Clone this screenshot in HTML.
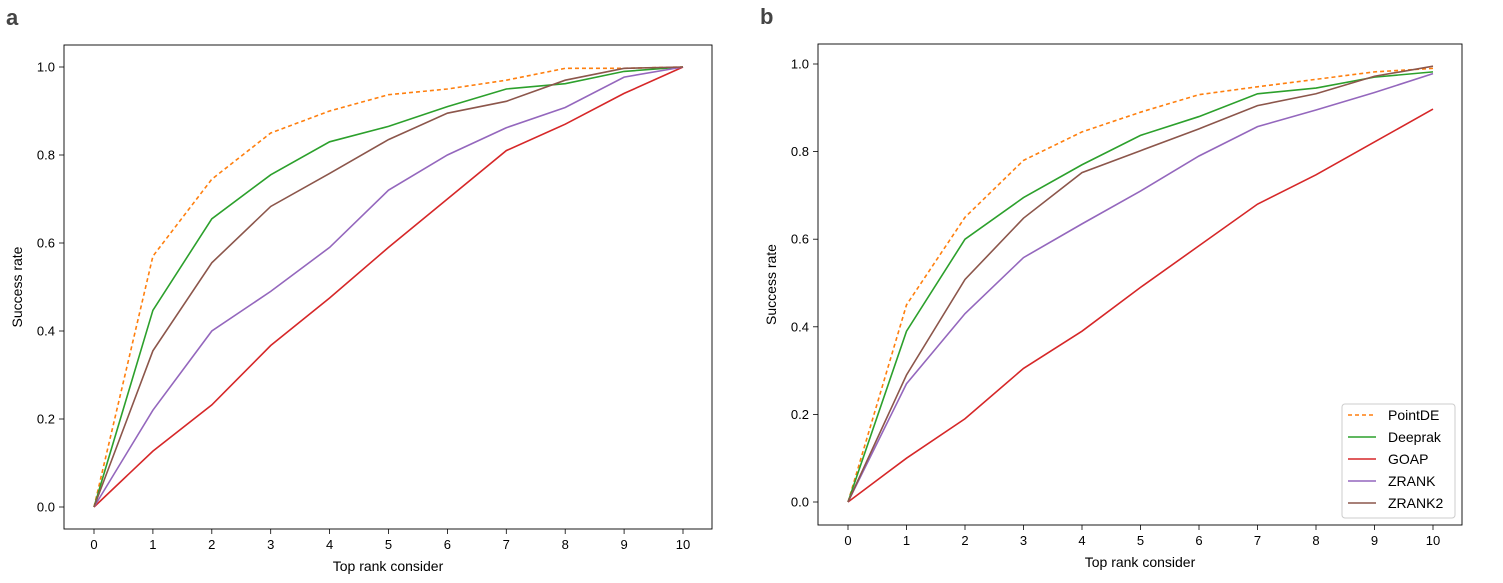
<!DOCTYPE html>
<html><head><meta charset="utf-8"><style>
body{margin:0;background:#fff;width:1503px;height:578px;overflow:hidden}
svg{font-family:"Liberation Sans","DejaVu Sans",sans-serif}
</style></head><body>
<svg id="c" width="1503" height="578"></svg>
<script>
const xTicks=[0,1,2,3,4,5,6,7,8,9,10];
const yTicks=[0,0.2,0.4,0.6,0.8,1.0];
const yTickLabels=["0.0","0.2","0.4","0.6","0.8","1.0"];
const seriesNames=["PointDE","Deeprak","GOAP","ZRANK","ZRANK2"];
const seriesColors=["#ff7f0e","#2ca02c","#d62728","#9467bd","#8c564b"];
const aPointDE=[0,0.57,0.745,0.85,0.9,0.937,0.95,0.97,0.997,0.997,1.0];
const aDeeprak=[0,0.447,0.655,0.755,0.83,0.865,0.91,0.95,0.962,0.99,1.0];
const aGOAP=[0,0.127,0.232,0.367,0.475,0.59,0.7,0.81,0.87,0.94,1.0];
const aZRANK=[0,0.22,0.4,0.49,0.59,0.72,0.8,0.862,0.908,0.977,1.0];
const aZRANK2=[0,0.355,0.555,0.683,0.758,0.835,0.895,0.922,0.97,0.997,1.0];
const bPointDE=[0,0.45,0.65,0.78,0.845,0.89,0.93,0.948,0.965,0.982,0.99];
const bDeeprak=[0,0.39,0.6,0.695,0.77,0.837,0.88,0.932,0.945,0.97,0.982];
const bGOAP=[0,0.1,0.19,0.305,0.39,0.49,0.585,0.68,0.747,0.822,0.897];
const bZRANK=[0,0.27,0.43,0.558,0.635,0.71,0.79,0.857,0.895,0.935,0.978];
const bZRANK2=[0,0.29,0.508,0.648,0.752,0.802,0.852,0.905,0.932,0.972,0.995];

const svg=document.getElementById('c');const NS="http://www.w3.org/2000/svg";
function mk(t,a,p){const e=document.createElementNS(NS,t);for(const k in a)e.setAttribute(k,a[k]);(p||svg).appendChild(e);return e;}
function panel(id,label,box,x0,x10,y0,y1,data,legend){
  const g=mk('g',{});
  
  
  const sx=v=>x0+(x10-x0)*v/10, sy=v=>y0+(y1-y0)*v;
  const lt=mk('text',{x:box[0]-58,y:box[1]-20,'font-size':22,'font-weight':'bold',fill:'#444'},g);lt.textContent=label;
  
  
  xTicks.forEach(t=>{const x=sx(t);mk('line',{x1:x,x2:x,y1:box[3],y2:box[3]+5,stroke:'#000','stroke-width':0.8},g);
    const tx=mk('text',{x:x,y:box[3]+20,'font-size':13,'text-anchor':'middle'},g);tx.textContent=t;
    
    });
  yTicks.forEach((t,i)=>{const y=sy(t);mk('line',{x1:box[0]-5,x2:box[0],y1:y,y2:y,stroke:'#000','stroke-width':0.8},g);
    const tx=mk('text',{x:box[0]-9,y:y+4.5,'font-size':13,'text-anchor':'end'},g);tx.textContent=yTickLabels[i];
    
    });
  const xt=mk('text',{x:(box[0]+box[2])/2,y:box[3]+42,'font-size':14,'text-anchor':'middle'},g);xt.textContent='Top rank consider';
  
  
  const yc=(box[1]+box[3])/2;
  const yt=mk('text',{x:box[0]-42,y:yc,'font-size':14,'text-anchor':'middle',transform:`rotate(-90 ${box[0]-42} ${yc})`},g);yt.textContent='Success rate';
  
  
  data.forEach((d,i)=>{const pts=d.map((v,j)=>sx(xTicks[j])+','+sy(v)).join(' ');
    const a={points:pts,fill:'none',stroke:seriesColors[i],'stroke-width':1.6};if(i===0)a['stroke-dasharray']='4,3';
    const pl=mk('polyline',a,g);
    
    });
  mk('rect',{x:box[0],y:box[1],width:box[2]-box[0],height:box[3]-box[1],fill:'none',stroke:'#000','stroke-width':0.9},g);
  if(legend){const lg=mk('g',{},g);
    
    
    mk('rect',{x:1342,y:404,width:113,height:114,rx:3,fill:'#fff',stroke:'#ccc'},lg);
    seriesNames.forEach((n,i)=>{const y=415+i*22;
      const a={x1:1348,x2:1376,y1:y,y2:y,stroke:seriesColors[i],'stroke-width':1.6};if(i===0)a['stroke-dasharray']='4,3';
      mk('line',a,lg);
      const t=mk('text',{x:1388,y:y+5,'font-size':14},lg);t.textContent=n;
      
      });}
}
panel('a','a',[64,45,712,529],94,683,507,67,[aPointDE,aDeeprak,aGOAP,aZRANK,aZRANK2],false);
panel('b','b',[818,44,1462,525],848,1433,502,64,[bPointDE,bDeeprak,bGOAP,bZRANK,bZRANK2],true);
</script>
</body></html>
